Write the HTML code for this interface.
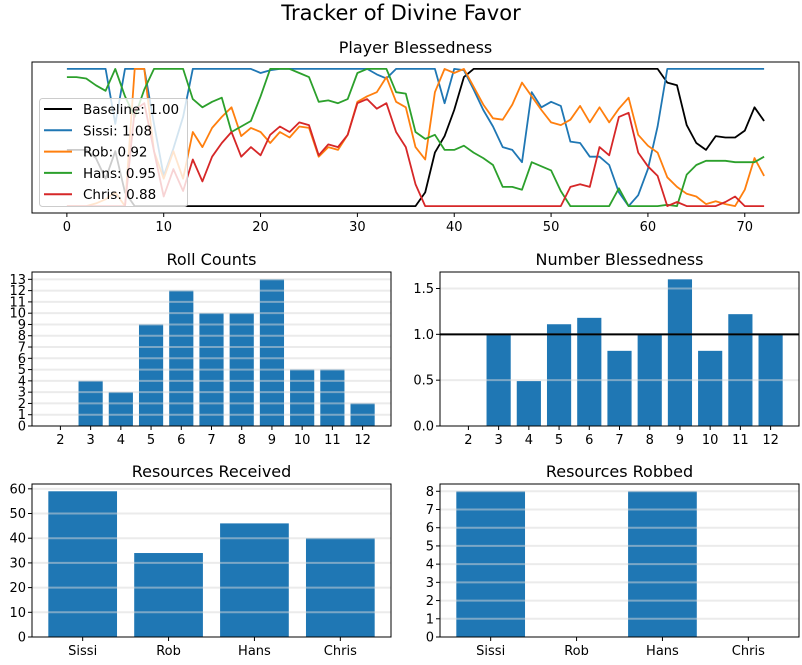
<!DOCTYPE html>
<html><head><meta charset="utf-8">
<style>
html,body{margin:0;padding:0;background:#fff;}
svg{display:block;font-family:"DejaVu Sans","Liberation Sans",sans-serif;}
</style></head>
<body>
<svg id="chart" width="802" height="665" viewBox="0 0 802 665" xmlns="http://www.w3.org/2000/svg">
<rect x="0" y="0" width="802" height="665" fill="#fff"/>
<text x="401" y="20" text-anchor="middle" font-size="21">Tracker of Divine Favor</text>
</svg>
<script>
// ---- Player Blessedness data ----
const seriesNames = ["Baseline: 1.00","Sissi: 1.08","Rob: 0.92","Hans: 0.95","Chris: 0.88"];
const seriesColors = ["#000000","#1f77b4","#ff7f0e","#2ca02c","#d62728"];
const baseline = [0.41,0.41,0.41,0.35,0.2,0.4,0.1,0,0,0,0,0,0,0,0,0,0,0,0,0,0,0,0,0,0,0,0,0,0,0,0,0,0,0,0,0,0,0.1,0.39,0.51,0.7,0.94,1,1,1,1,1,1,1,1,1,1,1,1,1,1,1,1,1,1,1,1,0.9,0.88,0.59,0.46,0.41,0.51,0.5,0.5,0.55,0.72,0.62];
const sissi = [1,1,1,1,1,0.6,1,1,1,0.6,0.22,0.42,0.65,1,1,1,1,1,1,1,0.97,0.99,1,1,1,1,1,1,1,1,1,1,0.96,0.93,1,1,1,1,1,0.75,1,0.99,0.85,0.7,0.58,0.43,0.41,0.32,0.83,0.72,0.76,0.73,0.47,0.46,0.36,0.36,0.3,0.1,0,0.08,0.27,0.58,1,1,1,1,1,1,1,1,1,1,1];
const rob = [0,0,0,0.02,0.05,0.1,0,1,1,0.4,0.2,0.4,0.2,0.54,0.43,0.57,0.65,0.72,0.51,0.57,0.54,0.46,0.54,0.5,0.58,0.57,0.36,0.43,0.41,0.52,0.76,0.8,0.83,0.94,0.76,0.72,0.43,0.34,0.83,1,0.97,1,0.87,0.74,0.64,0.63,0.74,0.9,0.8,0.7,0.61,0.59,0.63,0.73,0.61,0.72,0.61,0.71,0.79,0.52,0.44,0.39,0.21,0.14,0.09,0.07,0.015,0.035,0.015,0,0.12,0.35,0.22];
const hans = [0.94,0.94,0.93,0.88,0.84,1,0.8,0.65,0.85,1,1,1,1,0.78,0.72,0.76,0.79,0.54,0.58,0.62,0.8,1,1,1,0.97,0.94,0.76,0.77,0.75,0.78,0.97,1,1,1,0.83,0.82,0.54,0.49,0.52,0.41,0.41,0.44,0.39,0.35,0.3,0.14,0.14,0.12,0.32,0.29,0.26,0.11,0,0,0,0,0,0.13,0,0,0,0,0.01,0,0.23,0.3,0.33,0.33,0.33,0.32,0.32,0.32,0.36];
const chris = [0,0,0,0,0,0,0,0.7,0.75,0.4,0.07,0.27,0.11,0.34,0.18,0.36,0.46,0.54,0.36,0.43,0.37,0.52,0.58,0.54,0.61,0.59,0.37,0.45,0.43,0.52,0.75,0.78,0.71,0.75,0.54,0.43,0.16,0,0,0,0,0,0,0,0,0,0,0,0,0,0,0,0.14,0.16,0.14,0.43,0.37,0.65,0.68,0.39,0.29,0.22,0,0.03,0,0,0,0,0.03,0.07,0,0,0];
const lineTicks = [0,10,20,30,40,50,60,70];
// ---- bar chart data ----
const rollCats = ["2","3","4","5","6","7","8","9","10","11","12"];
const rollCounts = [0,4,3,9,12,10,10,13,5,5,2];
const rollTicks = [0,1,2,3,4,5,6,7,8,9,10,11,12,13];
const blessValues = [0,1.0,0.49,1.11,1.18,0.82,1.0,1.6,0.82,1.22,1.0];
const blessTicks = [0,0.5,1.0,1.5];
const blessTickLabels = ["0.0","0.5","1.0","1.5"];
const players = ["Sissi","Rob","Hans","Chris"];
const received = [59,34,46,40];
const receivedTicks = [0,10,20,30,40,50,60];
const robbed = [8,0,8,0];
const robbedTicks = [0,1,2,3,4,5,6,7,8];

const svg = document.getElementById('chart');
const NS = 'http://www.w3.org/2000/svg';
function mk(tag, attrs, parent){
  const e = document.createElementNS(NS, tag);
  for (const k in attrs) e.setAttribute(k, attrs[k]);
  (parent||svg).appendChild(e);
  return e;
}
function txt(s, attrs, parent){ const t = mk('text', attrs, parent); t.textContent = s; return t; }

// ---------- line chart ----------
(function(){
  const L=32,R=799,T=62,B=213;
  const g = mk('g',{});
  
  
  const n = baseline.length;
  const xmin = -0.05*(n-1), xmax = (n-1)*1.05;
  const xs = v => L + (v - xmin)/(xmax-xmin)*(R-L);
  const ys = v => B - (v + 0.05)/1.1*(B-T);
  const t = txt('Player Blessedness',{x:(L+R)/2,y:T-9,'text-anchor':'middle','font-size':16},g);
  
  
  const all = [baseline,sissi,rob,hans,chris];
  all.forEach((arr,si)=>{
    const d = arr.map((v,i)=>(i?'L':'M')+xs(i).toFixed(1)+','+ys(v).toFixed(1)).join(' ');
    const p = mk('path',{d:d,fill:'none',stroke:seriesColors[si],'stroke-width':1.8,'stroke-linejoin':'round'},g);
    
    
  });
  mk('rect',{x:L,y:T,width:R-L,height:B-T,fill:'none',stroke:'#000','stroke-width':1},g);
  lineTicks.forEach(v=>{
    const x = xs(v);
    mk('line',{x1:x,x2:x,y1:B,y2:B+4,stroke:'#000'},g);
    const lb = txt(String(v),{x:x,y:B+18,'text-anchor':'middle','font-size':13},g);
    
    
  });
  // legend
  const lg = mk('g',{},g);
  
  
  mk('rect',{x:39.5,y:98.5,width:148,height:108,rx:3,fill:'#fff','fill-opacity':0.8,stroke:'#ccc'},lg);
  seriesNames.forEach((s,i)=>{
    const y = 109 + i*21.3;
    mk('line',{x1:44,x2:72,y1:y,y2:y,stroke:seriesColors[i],'stroke-width':2},lg);
    const e = txt(s,{x:83,y:y+5,'font-size':13.5},lg);
    
    
  });
})();

// ---------- bar charts ----------
function barChart(opts){
  const {L,R,T,B,cats,vals,ticks,tickLabels,ymax,title,name,hline} = opts;
  const g = mk('g',{});
  
  
  const n = cats.length;
  const x0 = -0.4, x1 = n-1+0.4, pad = (x1-x0)*0.05;
  const xs = v => L + (v-(x0-pad))/((x1+pad)-(x0-pad))*(R-L);
  const ys = v => B - v/ymax*(B-T);
  const tt = txt(title,{x:(L+R)/2,y:T-7,'text-anchor':'middle','font-size':16},g);
  
  
  vals.forEach((v,i)=>{
    const xl = xs(i-0.4), xr = xs(i+0.4);
    const r = mk('rect',{x:xl,y:ys(v),width:xr-xl,height:B-ys(v),fill:'#1f77b4'},g);
    
    
  });
  ticks.forEach((v,i)=>{
    const y = ys(v);
    if (v>0) mk('line',{x1:L,x2:R,y1:y,y2:y,stroke:'#d8d8d8','stroke-opacity':0.5,'stroke-width':2},g);
    mk('line',{x1:L-4,x2:L,y1:y,y2:y,stroke:'#000'},g);
    const lb = txt(tickLabels?tickLabels[i]:String(v),{x:L-6,y:y+4.5,'text-anchor':'end','font-size':13},g);
    
    
  });
  if (hline!==undefined) mk('line',{x1:L,x2:R,y1:ys(hline),y2:ys(hline),stroke:'#000','stroke-width':2},g);
  cats.forEach((c,i)=>{
    const x = xs(i);
    mk('line',{x1:x,x2:x,y1:B,y2:B+4,stroke:'#000'},g);
    const lb = txt(c,{x:x,y:B+18,'text-anchor':'middle','font-size':13},g);
    
    
  });
  mk('rect',{x:L,y:T,width:R-L,height:B-T,fill:'none',stroke:'#000','stroke-width':1},g);
}
barChart({L:32,R:391,T:272,B:426,cats:rollCats,vals:rollCounts,ticks:rollTicks,ymax:Math.max(...rollCounts)*1.05,title:'Roll Counts',name:'roll-counts-chart'});
barChart({L:440,R:799,T:272,B:426,cats:rollCats,vals:blessValues,ticks:blessTicks,tickLabels:blessTickLabels,ymax:Math.max(...blessValues)*1.05,title:'Number Blessedness',name:'number-blessedness-chart',hline:1});
barChart({L:32,R:391,T:484,B:637,cats:players,vals:received,ticks:receivedTicks,ymax:Math.max(...received)*1.05,title:'Resources Received',name:'resources-received-chart'});
barChart({L:440,R:799,T:484,B:637,cats:players,vals:robbed,ticks:robbedTicks,ymax:Math.max(...robbed)*1.05,title:'Resources Robbed',name:'resources-robbed-chart'});
</script>
</body></html>
